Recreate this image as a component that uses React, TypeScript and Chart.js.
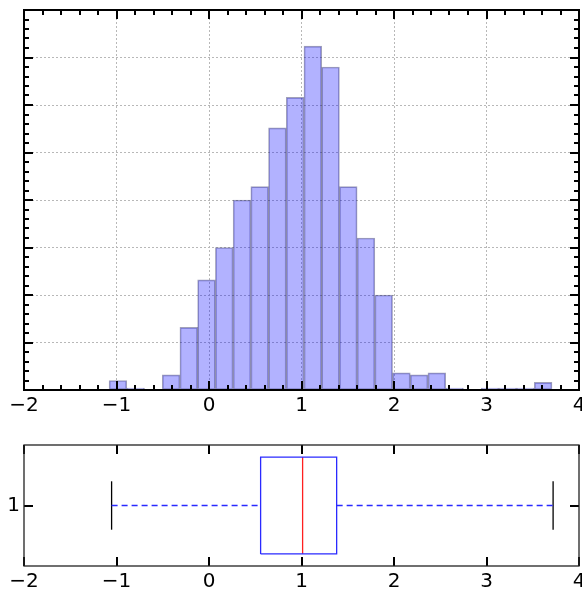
import React, { useEffect, useRef } from "react";
import { Chart, registerables } from "chart.js";
Chart.register(...registerables);

// ---------- data ----------
const binEdges = [
  -1.08, -0.889, -0.697, -0.506, -0.314, -0.123, 0.069, 0.261, 0.452, 0.644,
  0.835, 1.027, 1.218, 1.41, 1.601, 1.793, 1.984, 2.176, 2.367, 2.559, 2.75,
  2.942, 3.133, 3.325, 3.516, 3.708,
];
const binCounts = [
  5, 1, 0, 8, 33, 58, 75, 100, 107, 138, 154, 181, 170, 107, 80, 50, 9, 8, 9,
  1, 0, 1, 1, 1, 4,
];
const xTickValues = [-2, -1, 0, 1, 2, 3, 4];
const histYMax = 200;
const histYStep = 25;

const boxQ1 = 0.558;
const boxMedian = 1.012;
const boxQ3 = 1.38;
const whiskerLow = -1.053;
const whiskerHigh = 3.72;
const boxPosition = 1;
const boxYTicks = [1];

// ---------- helpers ----------
const FONT = "'DejaVu Sans', 'Liberation Sans', sans-serif";
const FONT_SIZE = 20;
const fmt = (v: number) => (v < 0 ? "\u2212" + Math.abs(v) : String(v));

type TickMark = { v: number; major: boolean };

function frameTicksPlugin(opts: {
  xTicks: TickMark[];
  yTicks: TickMark[];
  majorLen: number;
  minorLen: number;
  tickWidth: number;
  frameWidth: number;
  frameColor: string;
}) {
  return {
    id: "frameTicks",
    afterDraw(chart: any) {
      const { ctx, chartArea: a, scales } = chart;
      const xs = scales.x;
      const ys = scales.y;
      ctx.save();
      ctx.strokeStyle = "#000";
      ctx.lineWidth = opts.tickWidth;
      ctx.beginPath();
      for (const t of opts.xTicks) {
        const px = Math.round(xs.getPixelForValue(t.v));
        const len = t.major ? opts.majorLen : opts.minorLen;
        ctx.moveTo(px, a.bottom);
        ctx.lineTo(px, a.bottom - len);
        ctx.moveTo(px, a.top);
        ctx.lineTo(px, a.top + len);
      }
      for (const t of opts.yTicks) {
        const py = Math.round(ys.getPixelForValue(t.v));
        const len = t.major ? opts.majorLen : opts.minorLen;
        ctx.moveTo(a.left, py);
        ctx.lineTo(a.left + len, py);
        ctx.moveTo(a.right, py);
        ctx.lineTo(a.right - len, py);
      }
      ctx.stroke();
      ctx.lineWidth = opts.frameWidth;
      ctx.strokeStyle = opts.frameColor;
      ctx.strokeRect(a.left, a.top, a.right - a.left, a.bottom - a.top);
      ctx.restore();
    },
  };
}

function HistChart() {
  const ref = useRef<HTMLCanvasElement>(null);
  useEffect(() => {
    const data = binCounts.map((c, i) => ({
      x: (binEdges[i] + binEdges[i + 1]) / 2,
      y: c,
    }));
    const xMarks: TickMark[] = [];
    for (let k = -10; k <= 20; k++) xMarks.push({ v: k / 5, major: k % 5 === 0 });
    const yMarks: TickMark[] = [];
    for (let v = 0; v <= histYMax; v += histYStep / 5)
      yMarks.push({ v, major: v % histYStep === 0 });

    const chart = new Chart(ref.current!, {
      type: "bar",
      data: {
        datasets: [
          {
            data: data as any,
            backgroundColor: "rgba(0,0,255,0.3)",
            borderColor: "rgba(20,20,80,0.4)",
            borderWidth: ((c: any) => (c.raw && c.raw.y > 0 ? 1 : 0)) as any,
            borderSkipped: false,
            barPercentage: 1,
            categoryPercentage: 1,
          },
        ],
      },
      options: {
        responsive: false,
        animation: false,
        devicePixelRatio: 1,
        layout: { padding: { left: 24, right: 3, top: 10, bottom: 0 } },
        plugins: { legend: { display: false }, tooltip: { enabled: false } },
        scales: {
          x: {
            type: "linear",
            min: -2,
            max: 4,
            offset: false,
            bounds: "ticks",
            afterBuildTicks: (s: any) => {
              s.ticks = xTickValues.map((v) => ({ value: v }));
            },
            afterFit: (s: any) => {
              s.height = 40;
              s.paddingLeft = 0;
              s.paddingRight = 0;
            },
            grid: {
              color: "#b8b8b8",
              lineWidth: 1,
              drawTicks: false,
              offset: false,
            } as any,
            border: { display: false, dash: [2, 2] },
            ticks: {
              color: "#000",
              font: { family: FONT, size: FONT_SIZE },
              padding: 4,
              maxRotation: 0,
              autoSkip: false,
              callback: (v: any) => fmt(Number(v)),
            },
          },
          y: {
            type: "linear",
            min: 0,
            max: histYMax,
            afterFit: (s: any) => {
              s.width = 0;
            },
            grid: { color: "#b8b8b8", lineWidth: 1, drawTicks: false },
            border: { display: false, dash: [2, 2] },
            ticks: { display: false, stepSize: histYStep },
          },
        },
      },
      plugins: [
        frameTicksPlugin({
          xTicks: xMarks,
          yTicks: yMarks,
          majorLen: 9,
          minorLen: 5,
          tickWidth: 2,
          frameWidth: 2,
          frameColor: "#000",
        }) as any,
      ],
    });
    return () => chart.destroy();
  }, []);
  return (
    <canvas
      ref={ref}
      width={582}
      height={430}
      style={{ position: "absolute", left: 0, top: 0, width: 582, height: 430 }}
    />
  );
}

function BoxChart() {
  const ref = useRef<HTMLCanvasElement>(null);
  useEffect(() => {
    const yLo = boxPosition - 0.4;
    const yHi = boxPosition + 0.4;
    const cLo = boxPosition - 0.2;
    const cHi = boxPosition + 0.2;
    const line = (pts: { x: number; y: number }[], color: string, dash: number[] = []) => ({
      data: pts,
      showLine: true,
      borderColor: color,
      borderWidth: 1.3,
      borderDash: dash,
      pointRadius: 0,
      fill: false,
      tension: 0,
    });
    const chart = new Chart(ref.current!, {
      type: "scatter",
      data: {
        datasets: [
          line([{ x: whiskerLow, y: boxPosition }, { x: boxQ1, y: boxPosition }], "#2a2aff", [6, 4]),
          line([{ x: boxQ3, y: boxPosition }, { x: whiskerHigh, y: boxPosition }], "#2a2aff", [6, 4]),
          line([{ x: whiskerLow, y: cLo }, { x: whiskerLow, y: cHi }], "#000"),
          line([{ x: whiskerHigh, y: cLo }, { x: whiskerHigh, y: cHi }], "#000"),
          line(
            [
              { x: boxQ1, y: yLo },
              { x: boxQ3, y: yLo },
              { x: boxQ3, y: yHi },
              { x: boxQ1, y: yHi },
              { x: boxQ1, y: yLo },
            ],
            "#2a2aff"
          ),
          line([{ x: boxMedian, y: yLo }, { x: boxMedian, y: yHi }], "#ff2020"),
        ] as any,
      },
      options: {
        responsive: false,
        animation: false,
        devicePixelRatio: 1,
        layout: { padding: { left: 0, right: 3, top: 15, bottom: 0 } },
        plugins: { legend: { display: false }, tooltip: { enabled: false } },
        scales: {
          x: {
            type: "linear",
            min: -2,
            max: 4,
            afterBuildTicks: (s: any) => {
              s.ticks = xTickValues.map((v) => ({ value: v }));
            },
            afterFit: (s: any) => {
              s.height = 26;
              s.paddingLeft = 0;
              s.paddingRight = 0;
            },
            grid: { display: false, drawTicks: false },
            border: { display: false },
            ticks: {
              color: "#000",
              font: { family: FONT, size: FONT_SIZE },
              padding: 4,
              maxRotation: 0,
              autoSkip: false,
              callback: (v: any) => fmt(Number(v)),
            },
          },
          y: {
            type: "linear",
            min: boxPosition - 0.5,
            max: boxPosition + 0.5,
            afterBuildTicks: (s: any) => {
              s.ticks = boxYTicks.map((v) => ({ value: v }));
            },
            afterFit: (s: any) => {
              s.width = 24;
              s.paddingTop = 0;
              s.paddingBottom = 0;
            },
            grid: { display: false, drawTicks: false },
            border: { display: false },
            ticks: {
              color: "#000",
              font: { family: FONT, size: FONT_SIZE },
              padding: 4,
              callback: (v: any) => fmt(Number(v)),
            },
          },
        },
      },
      plugins: [
        frameTicksPlugin({
          xTicks: xTickValues.map((v) => ({ v, major: true })),
          yTicks: boxYTicks.map((v) => ({ v, major: true })),
          majorLen: 9,
          minorLen: 5,
          tickWidth: 2,
          frameWidth: 1.3,
          frameColor: "#222",
        }) as any,
      ],
    });
    return () => chart.destroy();
  }, []);
  return (
    <canvas
      ref={ref}
      width={582}
      height={162}
      style={{ position: "absolute", left: 0, top: 430, width: 582, height: 162 }}
    />
  );
}

export default function App() {
  return (
    <div
      style={{
        position: "absolute",
        left: 0,
        top: 0,
        width: 582,
        height: 592,
        background: "#fff",
        overflow: "hidden",
      }}
    >
      <HistChart />
      <BoxChart />
    </div>
  );
}
